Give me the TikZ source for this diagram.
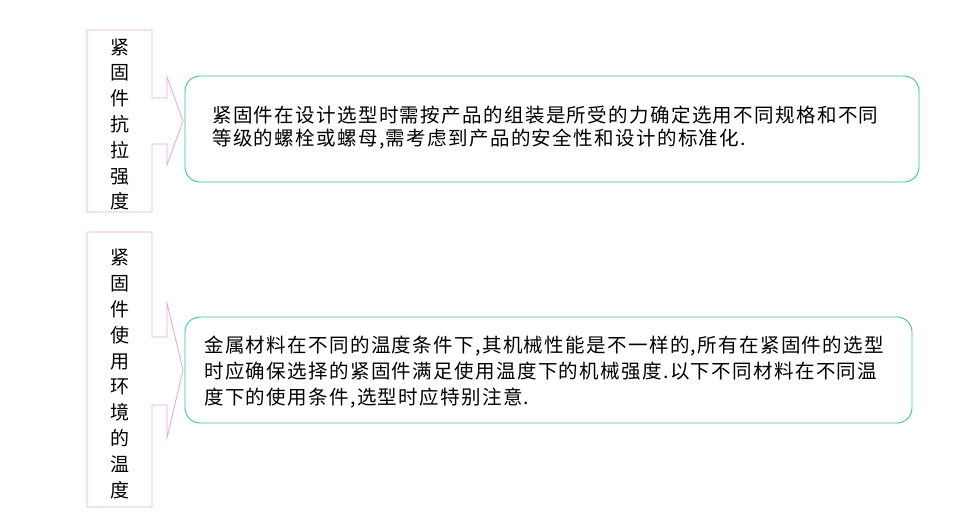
\documentclass[tikz,border=0pt]{standalone}
\usepackage{fontspec}
\newfontfamily\cjk[LetterSpace=7]{Noto Sans CJK SC}
\newfontfamily\cjkv{Noto Sans CJK SC}
\definecolor{calloutpink}{RGB}{230,172,222}
\definecolor{boxteal}{RGB}{64,192,162}
\begin{document}
\begin{tikzpicture}[x=1pt,y=-1pt,
  callout/.style={draw=calloutpink,line width=0.9pt,line join=miter},
  infobox/.style={draw=boxteal,line width=0.9pt,rounded corners=15pt,inner sep=0},
  vlabel/.style={inner sep=0,align=center,font={\cjkv\fontsize{19}{25.8}\selectfont}},
  infotext/.style={inner sep=0,anchor=west,align=left}]
\useasboundingbox[fill=white] (0,0) rectangle (960,519);

% first group
\draw[callout] (87,30) -- (152,30) -- (152,98) -- (167,98) -- (167,77) -- (183,121)
  -- (167,165) -- (167,144) -- (152,144) -- (152,212) -- (87,212) -- cycle;
\node[vlabel] (lab1) at (119.5,124.5) {紧\\固\\件\\抗\\拉\\强\\度};
\node[infobox,minimum width=734pt,minimum height=106pt] (box1) at (552,129) {};
\node[infotext,font={\cjk\fontsize{19.5}{23}\selectfont}] (txt1) at (212,127.5)
  {紧固件在设计选型时需按产品的组装是所受的力确定选用不同规格和不同\\等级的螺栓或螺母,需考虑到产品的安全性和设计的标准化.};

% second group
\draw[callout] (87,232) -- (152,232) -- (152,337) -- (167,337) -- (167,303) -- (183,370)
  -- (167,438) -- (167,405) -- (152,405) -- (152,507) -- (87,507) -- cycle;
\node[vlabel] (lab2) at (119.5,374) {紧\\固\\件\\使\\用\\环\\境\\的\\温\\度};
\node[infobox,minimum width=727pt,minimum height=106pt] (box2) at (548.5,370) {};
\node[infotext,font={\cjk\fontsize{19.5}{26}\selectfont}] (txt2) at (204,372)
  {金属材料在不同的温度条件下,其机械性能是不一样的,所有在紧固件的选型\\时应确保选择的紧固件满足使用温度下的机械强度.以下不同材料在不同温\\度下的使用条件,选型时应特别注意.};
\end{tikzpicture}
\end{document}
